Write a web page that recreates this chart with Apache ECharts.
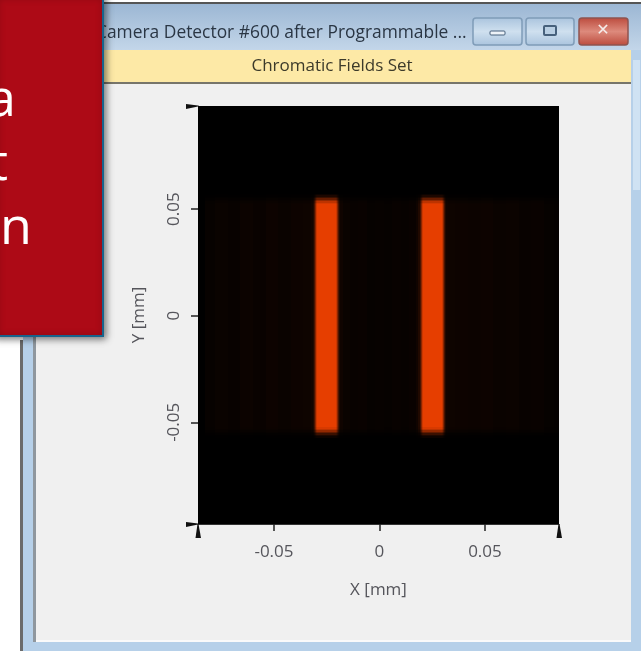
<!DOCTYPE html>
<html><head><meta charset="utf-8">
<style>html,body{margin:0;padding:0;background:#fff;overflow:hidden}#c{width:641px;height:651px;filter:blur(0.5px)}</style>
<script src="https://cdn.jsdelivr.net/npm/echarts@6/dist/echarts.min.js"></script>
</head><body><div id="c"></div>
<script>
const windowTitle = 'Camera Detector #600 after Programmable ...';
const bandTitle = 'Chromatic Fields Set';
const calloutWords = ['a', 't', 'on'];
const xTicks = [-0.05, 0, 0.05];
const yTicks = [-0.05, 0, 0.05];
const xRange = [-0.086, 0.0851];
const yRange = [-0.0977, 0.0984];
const xEdges = [-0.086,-0.0825,-0.078,-0.072,-0.066,-0.06,-0.054,-0.048,-0.042,-0.036,-0.0325,-0.0315,-0.031,-0.0305,-0.03,-0.0295,-0.0205,-0.02,-0.0195,-0.019,-0.0185,-0.0175,-0.014,-0.01,-0.006,-0.002,0.002,0.006,0.01,0.014,0.0175,0.0185,0.019,0.0195,0.02,0.0205,0.0295,0.03,0.0305,0.031,0.0315,0.0325,0.036,0.042,0.048,0.054,0.06,0.066,0.072,0.078,0.0825,0.0851];
const xLevels = [0,0.03,0.045,0.035,0.05,0.04,0.055,0.045,0.055,0.06,0.08,0.14,0.32,0.6,0.88,1,0.88,0.6,0.32,0.14,0.07,0.045,0.035,0.04,0.028,0.032,0.025,0.035,0.03,0.04,0.07,0.14,0.32,0.6,0.88,1,0.88,0.6,0.32,0.14,0.07,0.06,0.055,0.05,0.055,0.042,0.048,0.035,0.04,0.025,0.02];
const yEdges = [0.0984,0.0572,0.0565,0.0558,0.0551,0.0544,0.0537,0.053,0.0523,-0.0523,-0.053,-0.0537,-0.0544,-0.0551,-0.0558,-0.0565,-0.0572,-0.0977];
const yLevels = [0,0.05,0.12,0.25,0.44,0.64,0.82,0.94,1,0.94,0.82,0.64,0.44,0.25,0.12,0.05,0];
const peakColor = [230, 62, 0];
const cornerMarks = [[xRange[0], yRange[1], 'y'], [xRange[0], yRange[0], 'y'], [xRange[0], yRange[0], 'x'], [xRange[1], yRange[0], 'x']];

const cells = [];
xLevels.forEach((a, i) => yLevels.forEach((b, j) => {
  cells.push([xEdges[i], xEdges[i + 1], yEdges[j], yEdges[j + 1], a * b]);
}));
const tickText = '#55555b', fontFam = '"Open Sans","Noto Sans",sans-serif';
const bg = (o) => Object.assign({ silent: true, z: -5 }, o);
const btn = (x, w, c1, c2, stroke) => bg({ type: 'rect', shape: { x, y: 18, width: w, height: 27, r: 3 },
  style: { fill: new echarts.graphic.LinearGradient(0, 0, 0, 1, [{ offset: 0, color: c1 }, { offset: 0.5, color: c2 }, { offset: 1, color: c1 }]), stroke, lineWidth: 1.5 } });

const chart = echarts.init(document.getElementById('c'), null, { renderer: 'canvas', width: 641, height: 651 });
chart.setOption({
  animation: false,
  backgroundColor: '#ffffff',
  grid: { left: 198, right: 82, top: 106, bottom: 127, containLabel: false },
  xAxis: {
    type: 'value', min: xRange[0], max: xRange[1], splitLine: { show: false },
    axisLine: { show: true, onZero: false, lineStyle: { color: '#333', width: 1 } },
    axisTick: { show: true, length: 7, customValues: xTicks, lineStyle: { color: '#222', width: 1.5 } },
    axisLabel: { customValues: xTicks, margin: 20, color: tickText, fontSize: 17, fontFamily: fontFam, formatter: v => String(v) },
    name: 'X [mm]', nameLocation: 'middle', nameGap: 58,
    nameTextStyle: { color: tickText, fontSize: 17, fontFamily: fontFam }
  },
  yAxis: {
    type: 'value', min: yRange[0], max: yRange[1], splitLine: { show: false },
    axisLine: { show: true, onZero: false, lineStyle: { color: '#333', width: 1 } },
    axisTick: { show: true, length: 7, customValues: yTicks, lineStyle: { color: '#222', width: 1.5 } },
    axisLabel: { customValues: yTicks, rotate: 90, margin: 15, color: tickText, fontSize: 17, fontFamily: fontFam, formatter: v => String(v) },
    name: 'Y [mm]', nameLocation: 'middle', nameGap: 50, nameRotate: 90,
    nameTextStyle: { color: tickText, fontSize: 17, fontFamily: fontFam }
  },
  series: [
    {
      type: 'custom', coordinateSystem: 'cartesian2d', data: cells, clip: true, encode: { x: [0, 1], y: [2, 3] },
      renderItem(params, api) {
        const p0 = api.coord([api.value(0), api.value(2)]), p1 = api.coord([api.value(1), api.value(3)]);
        const l = api.value(4);
        const x = Math.round(p0[0]), y = Math.round(p0[1]);
        const fill = 'rgb(' + peakColor.map(c => Math.round(c * l)).join(',') + ')';
        return { type: 'rect', shape: { x, y, width: Math.round(p1[0]) - x, height: Math.round(p1[1]) - y }, style: { fill } };
      }
    },
    {
      type: 'custom', coordinateSystem: 'cartesian2d', data: cornerMarks, clip: false, encode: { x: 0, y: 1 }, z: 5,
      renderItem(params, api) {
        const p = api.coord([api.value(0), api.value(1)]);
        const isY = cornerMarks[params.dataIndex][2] === 'y';
        const pts = isY ? [[p[0], p[1] - 0.5], [p[0], p[1] + 0.5], [p[0] - 12, p[1] + 3], [p[0] - 12, p[1] - 2]]
                        : [[p[0] - 0.5, p[1]], [p[0] + 0.5, p[1]], [p[0] + 3, p[1] + 14], [p[0] - 2.5, p[1] + 14]];
        return { type: 'polygon', shape: { points: pts }, style: { fill: '#111' } };
      }
    }
  ],
  graphic: { elements: [
    bg({ type: 'rect', shape: { x: 20, y: 340, width: 3, height: 311 }, style: { fill: '#6b6b6b' } }),
    bg({ type: 'rect', shape: { x: 23, y: 4, width: 618, height: 647 }, style: { fill: '#b6d0e9' } }),
    bg({ type: 'rect', shape: { x: 103, y: 2, width: 538, height: 2 }, style: { fill: '#555' } }),
    bg({ type: 'rect', shape: { x: 23, y: 4, width: 618, height: 46 }, style: { fill: new echarts.graphic.LinearGradient(0, 0, 0, 1, [{ offset: 0, color: '#9cb7d4' }, { offset: 1, color: '#c3d6e9' }]) } }),
    bg({ type: 'rect', shape: { x: 633, y: 60, width: 7, height: 130 }, style: { fill: '#cfe2f3' } }),
    bg({ type: 'rect', shape: { x: 33, y: 83, width: 598, height: 559 }, style: { fill: '#f0f0f0' } }),
    bg({ type: 'rect', shape: { x: 33, y: 83, width: 3, height: 559 }, style: { fill: '#8f979e' } }),
    bg({ type: 'rect', shape: { x: 36, y: 640, width: 595, height: 2 }, style: { fill: '#fafafa' } }),
    bg({ type: 'rect', shape: { x: 33, y: 50, width: 598, height: 33 }, style: { fill: '#fde9a6' } }),
    bg({ type: 'rect', shape: { x: 33, y: 82, width: 598, height: 2 }, style: { fill: '#77756a' } }),
    bg({ type: 'text', style: { x: 96, y: 33, text: windowTitle, fill: '#2a3644', font: '17.4px ' + fontFam, verticalAlign: 'middle' } }),
    bg({ type: 'text', style: { x: 332, y: 66, text: bandTitle, fill: '#3c3a2a', font: '17px ' + fontFam, align: 'center', verticalAlign: 'middle' } }),
    btn(473, 49, '#a9c3dd', '#cfe0ef', '#7f9cb8'),
    btn(526, 48, '#a9c3dd', '#cfe0ef', '#7f9cb8'),
    btn(579, 49, '#bb4a3c', '#dd8a7c', '#8e5450'),
    bg({ type: 'rect', shape: { x: 490, y: 31, width: 15, height: 4, r: 1 }, style: { fill: '#eef3f8', stroke: '#47617c', lineWidth: 1 } }),
    bg({ type: 'rect', shape: { x: 544, y: 26, width: 12, height: 9, r: 1 }, style: { fill: '#b9cfe3', stroke: '#47617c', lineWidth: 2 } }),
    bg({ type: 'text', style: { x: 603, y: 31, text: '✕', fill: '#f5ecea', font: 'bold 16px "DejaVu Sans"', align: 'center', verticalAlign: 'middle' } }),
    bg({ type: 'rect', z: -1, shape: { x: -6, y: -6, width: 109, height: 342 }, style: { fill: '#ad0a16', stroke: '#17648c', lineWidth: 2, shadowBlur: 7, shadowColor: 'rgba(0,0,0,0.5)', shadowOffsetX: 2, shadowOffsetY: 2 } }),
    bg({ type: 'text', z: 0, style: { x: 16, y: 127, text: calloutWords[0], fill: '#fff', font: '52px ' + fontFam, align: 'right', verticalAlign: 'bottom', lineHeight: 52 } }),
    bg({ type: 'text', z: 0, style: { x: 8, y: 191, text: calloutWords[1], fill: '#fff', font: '52px ' + fontFam, align: 'right', verticalAlign: 'bottom', lineHeight: 52 } }),
    bg({ type: 'text', z: 0, style: { x: 32, y: 255, text: calloutWords[2], fill: '#fff', font: '52px ' + fontFam, align: 'right', verticalAlign: 'bottom', lineHeight: 52 } })
  ] }
});
</script></body></html>
